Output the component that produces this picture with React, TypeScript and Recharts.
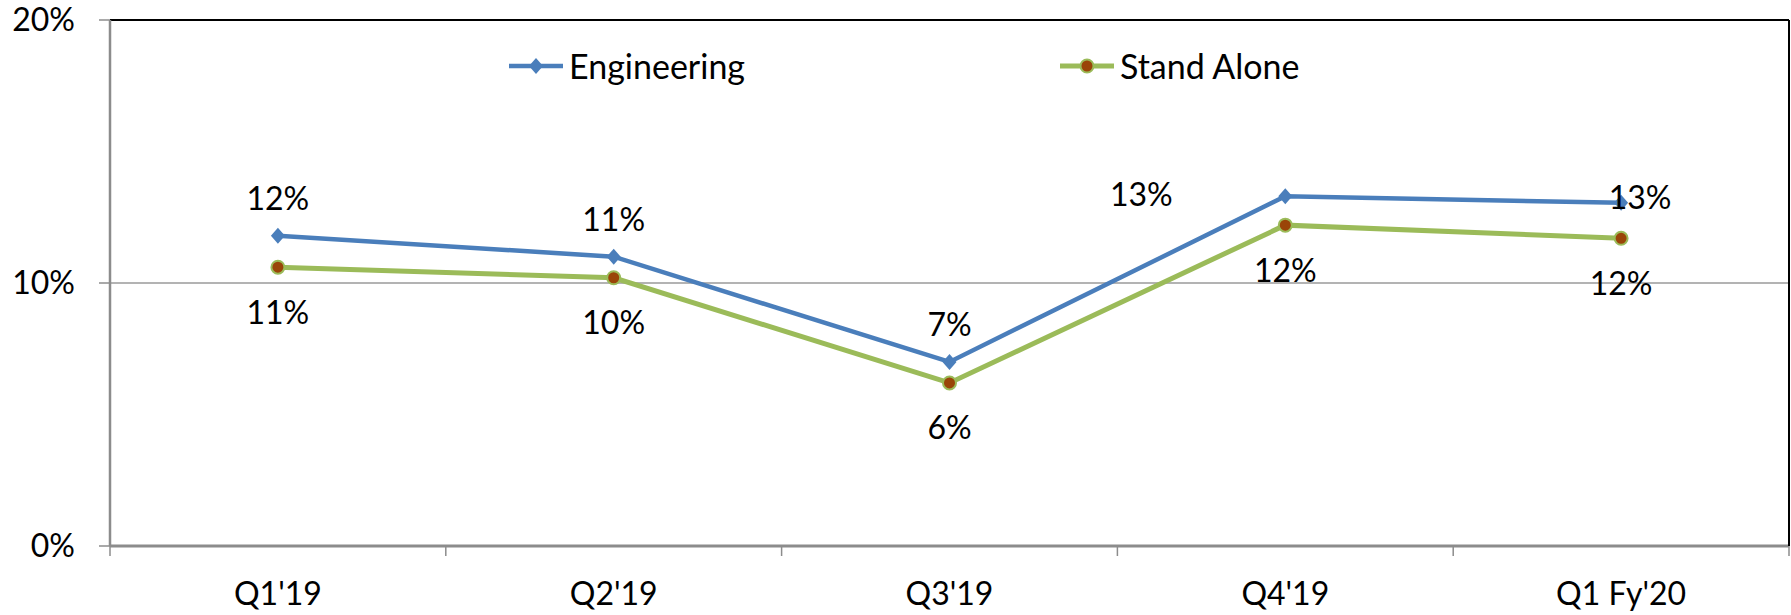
import { LineChart, Line, XAxis, YAxis, CartesianGrid, ReferenceLine, LabelList } from "recharts";

const quarters = ["Q1'19", "Q2'19", "Q3'19", "Q4'19", "Q1 Fy'20"];
const engineering = [11.8, 11.0, 7.0, 13.3, 13.05];
const standAlone = [10.6, 10.2, 6.2, 12.2, 11.7];
const seriesNames = ["Engineering", "Stand Alone"];
const yTicks = [0, 10, 20];

const data = quarters.map((q, i) => ({
  quarter: q,
  engineering: engineering[i],
  standAlone: standAlone[i],
}));

const BLUE = "#4a7ebb";
const GREEN = "#9bbb59";
const BROWN = "#9a4508";
const AXIS = "#8c8c8c";
const FONT = "Lato, 'Open Sans', sans-serif";
const X_MARGIN = 36;

const Diamond = ({ cx, cy }: { cx: number; cy: number }) => (
  <path d={`M${cx} ${cy - 8} L${cx + 7} ${cy} L${cx} ${cy + 8} L${cx - 7} ${cy} Z`} fill={BLUE} />
);

const Dot = ({ cx, cy }: { cx: number; cy: number }) => (
  <circle cx={cx} cy={cy} r={6.5} fill={BROWN} stroke={GREEN} strokeWidth={2} />
);

const pct = (v: number) => `${Math.round(v)}%`;

// category label plus the tick marks on the band edges (Excel style)
function QuarterTick(props: any) {
  const { x, y, payload, index, width, visibleTicksCount } = props;
  const half = width / visibleTicksCount / 2;
  const axisY = y - X_MARGIN;
  const isLast = index === visibleTicksCount - 1;
  return (
    <g>
      <line x1={x - half} y1={axisY} x2={x - half} y2={axisY + 10} stroke={AXIS} strokeWidth={1.5} />
      {isLast && <line x1={x + half} y1={axisY} x2={x + half} y2={axisY + 10} stroke={AXIS} strokeWidth={1.5} />}
      <text x={x} y={y} dy="0.71em" textAnchor="middle" fontSize={32} fill="#000">
        {payload.value}
      </text>
    </g>
  );
}

function engLabel(props: any) {
  const { x, y, value, index } = props;
  // Excel moved a couple of these labels around
  let dx = 0;
  let dy = -38;
  if (index === 3) {
    dx = -144;
    dy = -3;
  } else if (index === 4) {
    dx = 19;
    dy = -6;
  }
  return (
    <text key={index} x={x + dx} y={y + dy} textAnchor="middle" dominantBaseline="central" fontSize={32} fill="#000">
      {pct(value)}
    </text>
  );
}

function saLabel(props: any) {
  const { x, y, value, index } = props;
  return (
    <text key={index} x={x} y={y + 44} textAnchor="middle" dominantBaseline="central" fontSize={32} fill="#000">
      {pct(value)}
    </text>
  );
}

export default function App() {
  return (
    <div style={{ position: "absolute", left: 0, top: 0, width: 1791, height: 615, fontFamily: FONT, background: "#fff" }}>
      <LineChart width={1791} height={615} data={data} margin={{ top: 20, right: 1, bottom: 0, left: 0 }}>
        <CartesianGrid vertical={false} stroke="#9a9a9a" strokeWidth={1.5} />
        <XAxis
          dataKey="quarter"
          scale="band"
          axisLine={{ stroke: AXIS, strokeWidth: 3 }}
          tickLine={false}
          tickSize={0}
          tickMargin={X_MARGIN}
          height={69}
          interval={0}
          tick={<QuarterTick />}
        />
        <YAxis
          domain={[0, 20]}
          ticks={yTicks}
          tickFormatter={(v: number) => `${v}%`}
          width={110}
          tickSize={11}
          tickMargin={24}
          axisLine={{ stroke: AXIS, strokeWidth: 2.5 }}
          tickLine={{ stroke: AXIS, strokeWidth: 1.5 }}
          tick={{ fill: "#000", fontSize: 32 }}
        />
        <YAxis
          yAxisId="r"
          orientation="right"
          domain={[0, 20]}
          width={1}
          tick={false}
          tickLine={false}
          axisLine={{ stroke: "#000", strokeWidth: 2 }}
        />
        <ReferenceLine y={20} stroke="#000" strokeWidth={2} />
        <Line
          dataKey="engineering"
          name={seriesNames[0]}
          stroke={BLUE}
          strokeWidth={4.5}
          dot={(p: any) => <Diamond key={p.index} cx={p.cx} cy={p.cy} />}
          activeDot={false}
          isAnimationActive={false}
        >
          <LabelList dataKey="engineering" content={engLabel} />
        </Line>
        <Line
          dataKey="standAlone"
          name={seriesNames[1]}
          stroke={GREEN}
          strokeWidth={5}
          dot={(p: any) => <Dot key={p.index} cx={p.cx} cy={p.cy} />}
          activeDot={false}
          isAnimationActive={false}
        >
          <LabelList dataKey="standAlone" content={saLabel} />
        </Line>
      </LineChart>
      {/* legend */}
      <div style={{ position: "absolute", left: 508, top: 46, display: "flex", alignItems: "center", fontSize: 34 }}>
        <svg width={56} height={20}>
          <line x1={1} y1={10} x2={55} y2={10} stroke={BLUE} strokeWidth={4.5} />
          <Diamond cx={28} cy={10} />
        </svg>
        <span style={{ marginLeft: 5, lineHeight: "40px" }}>{seriesNames[0]}</span>
      </div>
      <div style={{ position: "absolute", left: 1059, top: 46, display: "flex", alignItems: "center", fontSize: 34 }}>
        <svg width={56} height={20}>
          <line x1={1} y1={10} x2={55} y2={10} stroke={GREEN} strokeWidth={5} />
          <Dot cx={28} cy={10} />
        </svg>
        <span style={{ marginLeft: 5, lineHeight: "40px" }}>{seriesNames[1]}</span>
      </div>
    </div>
  );
}
